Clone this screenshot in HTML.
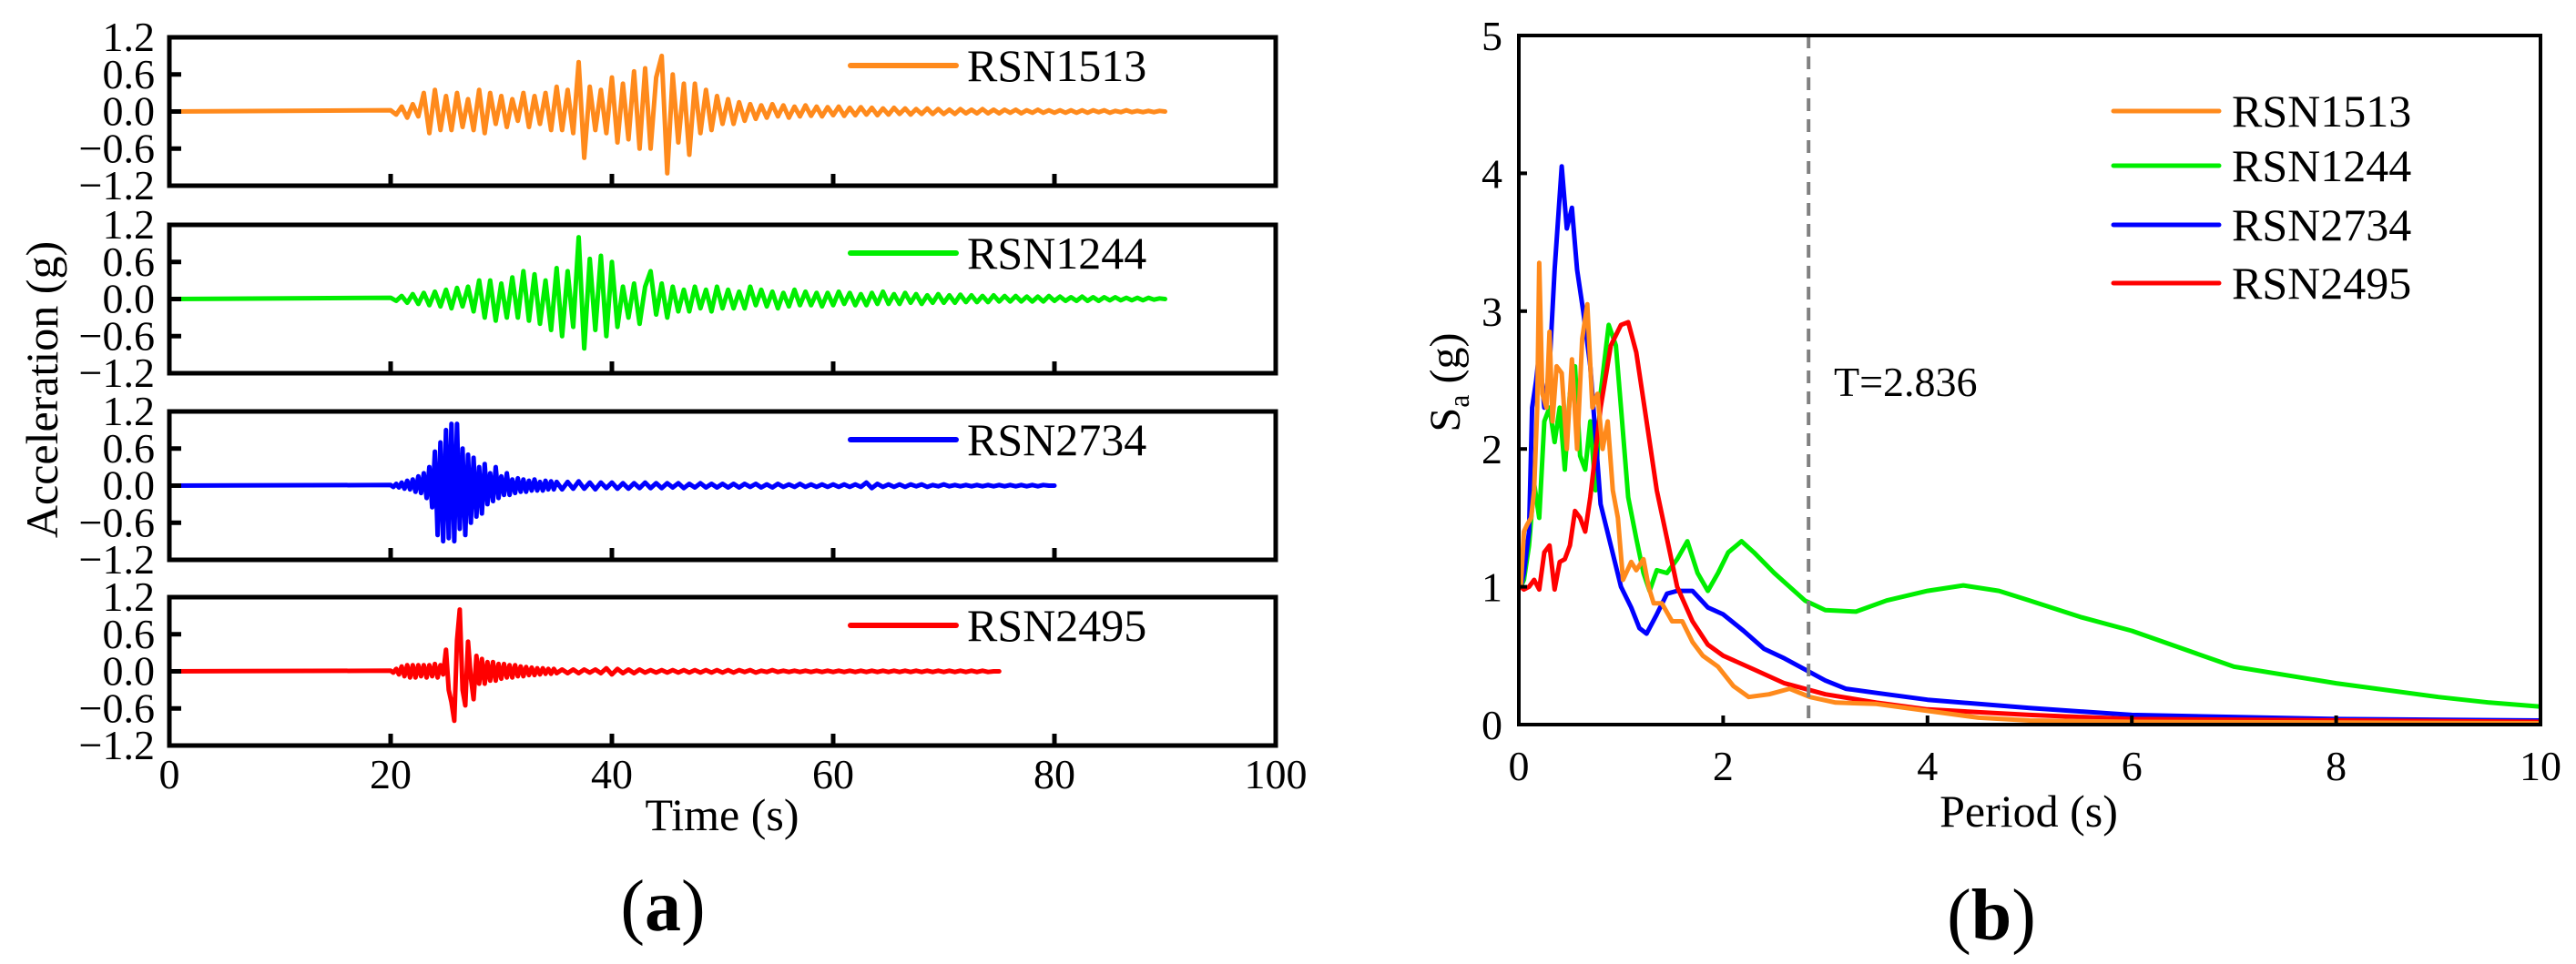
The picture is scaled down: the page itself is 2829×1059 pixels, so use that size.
<!DOCTYPE html>
<html><head><meta charset="utf-8"><style>
html,body{margin:0;padding:0;background:#fff;}
svg{display:block;font-family:"Liberation Serif",serif;}
</style></head><body>
<svg id="fig" width="2829" height="1059" viewBox="0 0 2829 1059" xmlns="http://www.w3.org/2000/svg">
<g id="left"></g>
<g id="right"></g>
</svg>
<script>
// ---------- Data: accelerograms (panel a) ----------
const timeTicks = [0, 20, 40, 60, 80, 100];
const accTicks = [1.2, 0.6, 0.0, -0.6, -1.2];
const accTickLabels = ["1.2", "0.6", "0.0", "\u22120.6", "\u22121.2"];
const recordNames = ["RSN1513", "RSN1244", "RSN2734", "RSN2495"];
const recordColors = ["#ff8a1c", "#00ee00", "#0000ff", "#ff0000"];

const rsn1513Acc = [0.02,-0.05,0.08,-0.1,0.12,-0.08,0.3,-0.35,0.35,
-0.3,0.25,-0.3,0.3,-0.25,0.2,-0.3,0.35,-0.35,0.3,-0.2,0.25,
-0.25,0.2,-0.15,0.3,-0.25,0.25,-0.2,0.3,-0.3,0.4,-0.3,0.35,-0.35,
0.8,-0.75,0.4,-0.3,0.35,-0.35,0.55,-0.5,0.45,-0.45,0.65,-0.6,0.7,-0.6,0.55,0.9,-1.0,0.6,-0.5,0.45,-0.7,0.45,-0.35,0.35,-0.3,0.25,-0.2,0.2,-0.2,0.15,-0.15,0.12,-0.12,
0.1,-0.1,0.12,-0.08,0.1,-0.1,0.08,-0.08,0.1,-0.07,0.08,-0.08,0.07,-0.06,0.08,-0.07,0.06,-0.06,0.07,-0.05,0.06,-0.06,0.05,-0.05,0.06,-0.04,0.05,-0.05,0.04,-0.04,0.05,-0.04,0.04,-0.04,0.03,-0.04,0.04,-0.03,0.03,-0.03,0.04,-0.03,0.03,-0.03,0.03,-0.02,0.03,-0.03,0.02,-0.02,0.03,-0.02,0.02,-0.02,0.02,-0.02,0.02,-0.02,0.02,-0.02,0.02,-0.01,0.02,-0.02,0.01,-0.01,0.02,-0.01,0.01,-0.01,0.01,-0.01,0.01,0];
const rsn1513Start = 20, rsn1513Dt = 0.5;

const rsn1244Acc = [0.02,-0.03,0.05,-0.06,0.08,-0.08,0.1,-0.1,0.12,-0.12,0.15,
-0.15,0.18,-0.12,0.2,-0.2,0.3,-0.3,0.3,-0.35,0.25,
-0.3,0.35,-0.3,0.45,-0.35,0.4,-0.4,0.3,
-0.5,0.5,-0.6,0.45,-0.45,1.0,-0.8,0.65,-0.5,0.7,-0.6,0.6,-0.45,
0.2,-0.3,0.25,-0.4,0.2,0.45,-0.25,0.25,-0.3,0.2,-0.2,0.15,-0.2,0.2,-0.15,0.15,-0.2,0.2,-0.15,
0.15,-0.15,0.12,-0.15,0.2,-0.1,0.15,-0.12,0.12,-0.15,0.1,-0.12,0.15,-0.1,0.12,-0.1,0.1,-0.12,0.1,-0.1,0.12,-0.08,0.1,-0.1,0.08,-0.1,0.1,-0.08,0.12,-0.08,0.08,-0.08,0.1,-0.06,0.08,-0.08,0.06,-0.06,0.08,-0.06,0.06,-0.06,0.07,-0.05,0.06,-0.05,0.05,-0.05,0.06,-0.04,0.05,-0.04,0.05,-0.04,0.04,-0.04,0.04,-0.04,0.05,-0.03,0.04,-0.03,0.03,-0.03,0.04,-0.03,0.03,-0.03,0.03,-0.02,0.03,-0.02,0.02,-0.02,0.02,-0.02,0.02,-0.01,0.01,0];
const rsn1244Start = 20, rsn1244Dt = 0.5;

const rsn2734Acc = [0.01,-0.02,0.03,-0.03,0.05,-0.05,0.08,-0.06,0.1,
-0.1,0.15,-0.12,0.2,-0.2,0.3,-0.35,
0.55,-0.8,0.7,-0.9,0.9,-0.85,1.0,-0.9,1.0,-0.7,0.6,-0.8,0.5,-0.6,0.45,-0.5,0.3,-0.45,0.35,-0.3,0.2,-0.25,0.3,-0.2,0.15,-0.15,0.2,-0.15,0.1,-0.12,0.12,-0.1,0.1,-0.1,0.08,-0.08,0.1,-0.08,0.06,-0.08,0.08,-0.06,0.07,-0.06,0.06];
const rsn2734Start = 20, rsn2734Dt = 0.25;
const rsn2734Tail = [-0.06,0.06,-0.05,0.07,-0.05,0.05,-0.06,0.05,-0.04,0.05,-0.05,0.04,-0.05,0.04,-0.04,0.05,-0.04,0.04,-0.04,0.04,-0.03,0.04,-0.04,0.03,-0.03,0.04,-0.03,0.03,-0.03,0.03,-0.03,0.03,-0.03,0.03,-0.02,0.03,-0.03,0.02,-0.03,0.03,-0.02,0.02,-0.02,0.03,-0.02,0.02,-0.02,0.02,-0.02,0.02,-0.02,0.02,-0.02,0.02,-0.02,0.05,-0.04,0.03,-0.02,0.02,-0.02,0.02,-0.02,0.02,-0.01,0.02,-0.02,0.01,-0.01,0.02,-0.01,0.01,-0.01,0.01,-0.01,0.01,-0.01,0.01,-0.01,0.01,-0.01,0.01,-0.01,0.01,-0.01,0.01,-0.01,0.01,0,0];
const rsn2734TailStart = 35.5, rsn2734TailDt = 0.5;

const rsn2495Acc = [0.01,-0.02,0.04,-0.05,0.08,-0.08,0.1,-0.1,0.1,-0.1,0.1,-0.08,0.1,-0.1,0.1,-0.08,0.12,-0.1,0.1,
-0.05,0.35,-0.3,-0.5,-0.8,0.5,1.0,-0.3,-0.55,0.48,-0.1,-0.45,0.25,-0.2,0.2,-0.2,0.15,-0.15,0.15,-0.15,0.12,-0.12,0.12,-0.1,0.1,-0.1,0.1,-0.08,0.08,-0.08,0.07,-0.06,0.06,-0.06,0.05,-0.05,0.05,-0.04,0.04,-0.04,0.04,-0.03];
const rsn2495Start = 20, rsn2495Dt = 0.25;
const rsn2495Tail = [0.03,-0.03,0.03,-0.03,0.03,-0.02,0.03,-0.03,0.05,-0.05,0.04,-0.03,0.03,-0.03,0.03,-0.02,0.02,-0.02,0.02,-0.02,0.02,-0.02,0.02,-0.02,0.02,-0.02,0.02,-0.02,0.02,-0.02,0.02,-0.02,0.02,-0.01,0.02,-0.02,0.01,-0.01,0.02,-0.01,0.01,-0.01,0.01,-0.01,0.01,-0.01,0.01,-0.01,0.01,-0.01,0.01,-0.01,0.01,-0.01,0.01,-0.01,0.01,-0.01,0.01,-0.01,0.01,-0.01,0.01,-0.01,0.01,-0.01,0.01,-0.01,0.01,-0.01,0.01,-0.01,0.01,-0.01,0.01,-0.01,0.01,-0.01,0];
const rsn2495TailStart = 35.5, rsn2495TailDt = 0.5;
const recordEndTimes = [90, 90, 80, 75];

// ---------- Data: response spectra (panel b) ----------
const periodTicks = [0, 2, 4, 6, 8, 10];
const saTicks = [0, 1, 2, 3, 4, 5];
const targetPeriod = 2.836;
const sp1513T = [0.02,0.05,0.08,0.12,0.15,0.18,0.2,0.23,0.27,0.3,0.33,0.37,0.42,0.47,0.52,0.57,0.62,0.67,0.72,0.77,0.82,0.87,0.92,0.97,1.02,1.1,1.15,1.22,1.27,1.32,1.4,1.5,1.6,1.7,1.8,1.95,2.1,2.25,2.45,2.65,2.85,3.1,3.5,4,4.5,5,6,10];
const sp1513Sa = [1.0,1.4,1.45,1.5,1.7,2.3,3.35,2.4,2.3,2.85,2.2,2.6,2.55,2.0,2.65,2.0,2.8,3.05,2.3,2.4,2.0,2.2,1.7,1.5,1.05,1.18,1.12,1.2,1.0,0.88,0.88,0.75,0.75,0.6,0.5,0.42,0.28,0.2,0.22,0.26,0.2,0.16,0.15,0.1,0.05,0.03,0.02,0.01];
const sp1244T = [0.02,0.05,0.1,0.15,0.2,0.25,0.3,0.35,0.4,0.45,0.5,0.55,0.6,0.65,0.7,0.75,0.8,0.88,0.95,1.0,1.07,1.15,1.22,1.28,1.35,1.45,1.55,1.65,1.75,1.85,1.95,2.05,2.18,2.3,2.5,2.8,3.0,3.3,3.6,4.0,4.35,4.7,5.0,5.5,6.0,7.0,8.0,9.0,9.5,10];
const sp1244Sa = [1.0,1.05,1.3,1.75,1.5,2.2,2.3,2.05,2.3,1.85,2.4,2.6,1.95,1.85,2.2,1.7,2.4,2.9,2.75,2.3,1.65,1.35,1.1,0.97,1.12,1.1,1.2,1.33,1.1,0.97,1.1,1.25,1.33,1.25,1.1,0.9,0.83,0.82,0.9,0.97,1.01,0.97,0.9,0.78,0.68,0.42,0.3,0.2,0.16,0.13];
const sp2734T = [0.02,0.05,0.1,0.13,0.17,0.2,0.25,0.3,0.35,0.42,0.47,0.52,0.57,0.63,0.7,0.8,0.9,1.0,1.1,1.18,1.25,1.35,1.45,1.55,1.7,1.85,2.0,2.2,2.4,2.6,2.8,3.0,3.2,3.6,4.0,5.0,6.0,8.0,10];
const sp2734Sa = [1.0,1.1,1.4,2.3,2.5,2.7,2.3,2.6,3.3,4.05,3.6,3.75,3.3,3.0,2.6,1.6,1.3,1.0,0.85,0.7,0.66,0.8,0.95,0.97,0.97,0.85,0.8,0.68,0.55,0.48,0.4,0.32,0.26,0.22,0.18,0.12,0.07,0.04,0.03];
const sp2495T = [0.02,0.05,0.1,0.15,0.2,0.25,0.3,0.35,0.4,0.45,0.5,0.55,0.6,0.65,0.7,0.8,0.9,1.0,1.07,1.15,1.25,1.35,1.45,1.55,1.7,1.85,2.0,2.3,2.6,3.0,3.5,4.0,5.0,6.0,10];
const sp2495Sa = [1.0,0.98,1.0,1.05,0.98,1.25,1.3,0.98,1.18,1.2,1.3,1.55,1.5,1.4,1.65,2.3,2.75,2.9,2.92,2.7,2.2,1.7,1.35,1.0,0.75,0.58,0.5,0.4,0.3,0.22,0.16,0.11,0.07,0.04,0.02];

const NS = "http://www.w3.org/2000/svg";
function mk(parent, tag, attrs, text) {
  const el = document.createElementNS(NS, tag);
  for (const k in attrs) el.setAttribute(k, attrs[k]);
  if (text !== undefined) el.textContent = text;
  parent.appendChild(el);
  return el;
}

// ---------- Panel (a) ----------
const L = document.getElementById("left");
const axL = 186, axR = 1401, panelTops = [41, 247, 452, 656], panelH = 163;
const tx = t => axL + (t - 0) / (100 - 0) * (axR - axL);
function seriesPoints(vals, t0, dt, ay) {
  return vals.map((v, i) => tx(t0 + i * dt).toFixed(1) + "," + ay(v).toFixed(1));
}
const accSeries = [
  [[rsn1513Acc, rsn1513Start, rsn1513Dt]],
  [[rsn1244Acc, rsn1244Start, rsn1244Dt]],
  [[rsn2734Acc, rsn2734Start, rsn2734Dt], [rsn2734Tail, rsn2734TailStart, rsn2734TailDt]],
  [[rsn2495Acc, rsn2495Start, rsn2495Dt], [rsn2495Tail, rsn2495TailStart, rsn2495TailDt]]
];
panelTops.forEach((top, p) => {
  const bot = top + panelH;
  const ay = v => top + (1.2 - v) / 2.4 * panelH;
  const g = mk(L, "g", {});
  
  
  let pts = [tx(0).toFixed(1) + "," + ay(0).toFixed(1)];
  accSeries[p].forEach(s => { pts = pts.concat(seriesPoints(s[0], s[1], s[2], ay)); });
  pts.push(tx(recordEndTimes[p]).toFixed(1) + "," + ay(0).toFixed(1));
  const line = mk(g, "polyline", {points: pts.join(" "), fill: "none", stroke: recordColors[p], "stroke-width": 5, "stroke-linejoin": "round", "stroke-linecap": "round"});
  
  
  const fr = mk(g, "rect", {x: axL, y: top, width: axR - axL, height: panelH, fill: "none", stroke: "#000", "stroke-width": 5});
  
  
  accTicks.forEach((v, i) => {
    const y = ay(v);
    if (i > 0 && i < accTicks.length - 1) mk(g, "line", {x1: axL, x2: axL + 13, y1: y, y2: y, stroke: "#000", "stroke-width": 5});
    const t = mk(g, "text", {x: 170, y: y + 15, "font-size": 46, "text-anchor": "end"}, accTickLabels[i]);
    
    
  });
  timeTicks.slice(1, -1).forEach(tv => {
    mk(g, "line", {x1: tx(tv), x2: tx(tv), y1: bot, y2: bot - 13, stroke: "#000", "stroke-width": 5});
  });
  const lg = mk(g, "g", {});
  
  
  mk(lg, "line", {x1: 934, x2: 1050, y1: top + 31, y2: top + 31, stroke: recordColors[p], "stroke-width": 6, "stroke-linecap": "round"});
  mk(lg, "text", {x: 1062, y: top + 48, "font-size": 50}, recordNames[p]);
});
timeTicks.forEach(tv => {
  const t = mk(L, "text", {x: tx(tv), y: 866, "font-size": 46, "text-anchor": "middle"}, String(tv));
  
  
});
const xt = mk(L, "text", {x: 793, y: 912, "font-size": 50, "text-anchor": "middle"}, "Time (s)");


const yt = mk(L, "text", {x: 0, y: 0, "font-size": 50, "text-anchor": "middle", transform: "translate(63,428) rotate(-90)"}, "Acceleration (g)");


const capA = mk(L, "text", {x: 728, y: 1022, "font-size": 80, "text-anchor": "middle"});


capA.innerHTML = '(<tspan font-weight="bold">a</tspan>)';

// ---------- Panel (b) ----------
const R = document.getElementById("right");
const bL = 1668, bR = 2790, bT = 39, bB = 796;
const px = t => bL + t / 10 * (bR - bL);
const py = s => bB - s / 5 * (bB - bT);
const spectra = [[sp1513T, sp1513Sa], [sp1244T, sp1244Sa], [sp2734T, sp2734Sa], [sp2495T, sp2495Sa]];
const drawOrder = [1, 2, 3, 0];
drawOrder.forEach(i => {
  const pts = spectra[i][0].map((t, k) => px(t).toFixed(1) + "," + py(spectra[i][1][k]).toFixed(1)).join(" ");
  const pl = mk(R, "polyline", {points: pts, fill: "none", stroke: recordColors[i], "stroke-width": 5, "stroke-linejoin": "round"});
  
  
});
const dl = mk(R, "line", {x1: px(targetPeriod), x2: px(targetPeriod), y1: bT, y2: bB, stroke: "#808080", "stroke-width": 4, "stroke-dasharray": "14,9"});


const tl = mk(R, "text", {x: 2014, y: 435, "font-size": 46}, "T=2.836");


const bf = mk(R, "rect", {x: bL, y: bT, width: bR - bL, height: bB - bT, fill: "none", stroke: "#000", "stroke-width": 4});


saTicks.forEach(s => {
  if (s > 0 && s < 5) mk(R, "line", {x1: bL, x2: bL + 9, y1: py(s), y2: py(s), stroke: "#000", "stroke-width": 4});
  const t = mk(R, "text", {x: 1650, y: py(s) + 16, "font-size": 46, "text-anchor": "end"}, String(s));
  
  
});
periodTicks.forEach(tv => {
  if (tv > 0 && tv < 10) mk(R, "line", {x1: px(tv), x2: px(tv), y1: bB, y2: bB - 10, stroke: "#000", "stroke-width": 4});
  const t = mk(R, "text", {x: px(tv), y: 857, "font-size": 46, "text-anchor": "middle"}, String(tv));
  
  
});
const pt = mk(R, "text", {x: 2228, y: 908, "font-size": 50, "text-anchor": "middle"}, "Period (s)");


const st = mk(R, "text", {x: 0, y: 0, "font-size": 48, "text-anchor": "middle", transform: "translate(1603,420) rotate(-90)"});


st.innerHTML = 'S<tspan font-size="32" dy="10">a</tspan><tspan dy="-10"> (g)</tspan>';
const legY = [122, 182, 247, 311];
recordNames.forEach((n, i) => {
  const g = mk(R, "g", {});
  
  
  mk(g, "line", {x1: 2321, x2: 2437, y1: legY[i], y2: legY[i], stroke: recordColors[i], "stroke-width": 5, "stroke-linecap": "round"});
  mk(g, "text", {x: 2451, y: legY[i] + 17, "font-size": 50}, n);
});
const capB = mk(R, "text", {x: 2187, y: 1032, "font-size": 80, "text-anchor": "middle"});


capB.innerHTML = '(<tspan font-weight="bold">b</tspan>)';
</script>
</body></html>
